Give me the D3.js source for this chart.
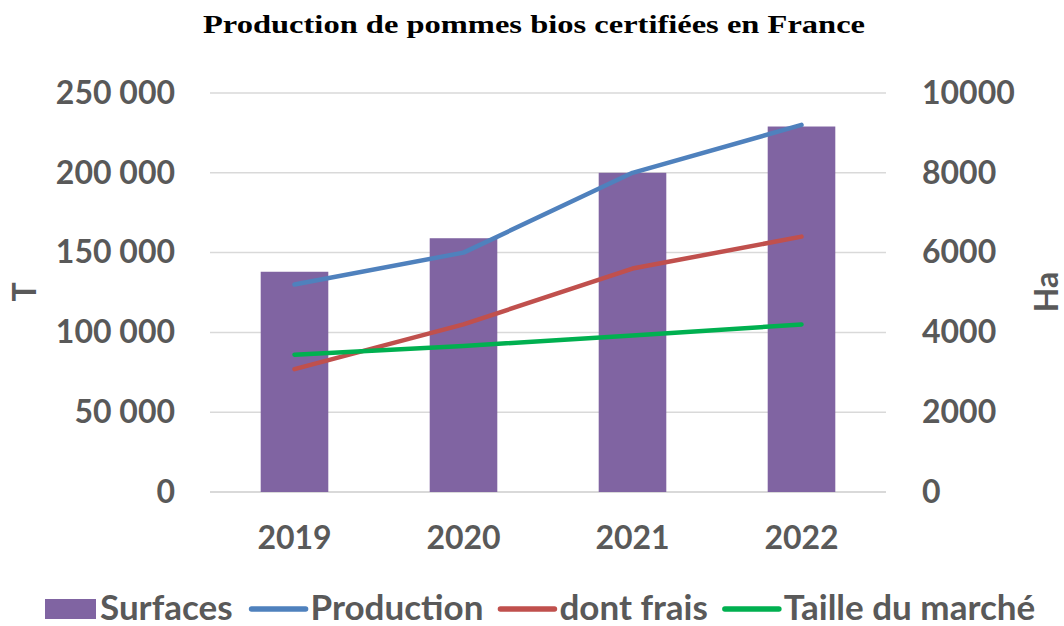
<!DOCTYPE html>
<html>
<head>
<meta charset="utf-8">
<script src="https://cdn.jsdelivr.net/npm/d3@7"></script>
<style>
  body { margin: 0; background: #fff; }
  text { font-family: Lato, "Open Sans", sans-serif; }
</style>
</head>
<body>
<div id="container"></div>
<script>
// data
const years = ['2019', '2020', '2021', '2022'];
const surfaces = [5520, 6360, 8000, 9160];          // Ha (right axis)
const production = [130000, 150000, 200000, 230000]; // T
const dontFrais = [77000, 105000, 140000, 160000];
const tailleMarche = [86000, 91500, 98000, 105000];
const leftTicks = [0, 50000, 100000, 150000, 200000, 250000];
const rightTicks = [0, 2000, 4000, 6000, 8000, 10000];

const width = 1064, height = 626;
const grey = '#595959';
const tickFont = '32px';
const legFont = '35px';

const svg = d3.select('#container').append('svg')
    .attr('width', width)
    .attr('height', height);

// scales
const x = d3.scaleBand().domain(years).range([210, 886]).paddingInner(0.6).paddingOuter(0.3);
const yL = d3.scaleLinear().domain([0, 250000]).range([492, 93]);
const yR = d3.scaleLinear().domain([0, 10000]).range([492, 93]);

const fr = d3.formatLocale({ decimal: ',', thousands: ' ', grouping: [3], currency: ['', ' €'] });

// title
svg.append('text')
    .attr('x', 534).attr('y', 33)
    .attr('text-anchor', 'middle')
    .style('font-family', '"Liberation Serif", serif')
    .style('font-weight', 'bold')
    .style('font-size', '26px')
    .attr('textLength', 662)
    .attr('lengthAdjust', 'spacingAndGlyphs')
    .attr('fill', '#000')
    .text('Production de pommes bios certifiées en France');

// gridlines
svg.append('g').selectAll('line').data(leftTicks).enter().append('line')
    .attr('x1', 210).attr('x2', 886)
    .attr('y1', d => yL(d)).attr('y2', d => yL(d))
    .attr('stroke', '#D9D9D9')
    .attr('stroke-width', d => d === 0 ? 2 : 1.5);

// left axis
const gL = svg.append('g')
    .attr('transform', 'translate(212,0)')
    .call(d3.axisLeft(yL).tickValues(leftTicks).tickSize(0).tickPadding(37).tickFormat(fr.format(',')));
gL.select('.domain').remove();
gL.selectAll('text')
    .attr('fill', grey).style('font-size', tickFont).style('font-weight', 'bold')
    .style('font-family', 'Lato, sans-serif');

// right axis
const gR = svg.append('g')
    .attr('transform', 'translate(885,0)')
    .call(d3.axisRight(yR).tickValues(rightTicks).tickSize(0).tickPadding(37).tickFormat(d3.format('d')));
gR.select('.domain').remove();
gR.selectAll('text')
    .attr('fill', grey).style('font-size', tickFont).style('font-weight', 'bold')
    .style('font-family', 'Lato, sans-serif');

// x axis
const gX = svg.append('g')
    .attr('transform', 'translate(0,492)')
    .call(d3.axisBottom(x).tickSize(0).tickPadding(34));
gX.select('.domain').remove();
gX.selectAll('text')
    .attr('fill', grey).style('font-size', tickFont).style('font-weight', 'bold')
    .style('font-family', 'Lato, sans-serif');

// axis titles
svg.append('text')
    .attr('transform', 'translate(36,292) rotate(-90)')
    .attr('text-anchor', 'middle')
    .attr('fill', grey).style('font-size', tickFont).style('font-weight', 'bold')
    .text('T');
svg.append('text')
    .attr('transform', 'translate(1058,292) rotate(-90)')
    .attr('text-anchor', 'middle')
    .attr('fill', grey).style('font-size', tickFont).style('font-weight', 'bold')
    .text('Ha');

// bars
svg.append('g').selectAll('rect').data(surfaces).enter().append('rect')
    .attr('x', (d, i) => x(years[i]))
    .attr('width', x.bandwidth())
    .attr('y', d => yR(d))
    .attr('height', d => yR(0) - yR(d))
    .attr('fill', '#8064A2');

// lines
const series = [
    { name: 'Production', values: production, color: '#4F81BD' },
    { name: 'dont frais', values: dontFrais, color: '#C0504D' },
    { name: 'Taille du marché', values: tailleMarche, color: '#00B050' }
];
const line = d3.line()
    .x((d, i) => x(years[i]) + x.bandwidth() / 2)
    .y(d => yL(d));

series.forEach(s => {
    svg.append('path')
        .datum(s.values)
        .attr('d', line)
        .attr('fill', 'none')
        .attr('stroke', s.color)
        .attr('stroke-width', 4.5)
        .attr('stroke-linecap', 'round')
        .attr('stroke-linejoin', 'round');
});

// legend
const leg = svg.append('g');
let lx = 45;
const ly = 609;
leg.append('rect').attr('x', lx).attr('y', ly - 10).attr('width', 51).attr('height', 20).attr('fill', '#8064A2');
lx += 55;
let t = leg.append('text').attr('x', lx).attr('y', ly + 11)
    .attr('fill', grey).style('font-size', legFont).style('font-weight', 'bold').text('Surfaces');
lx += t.node().getComputedTextLength() + 19;
series.forEach(s => {
    leg.append('line')
        .attr('x1', lx).attr('x2', lx + 54)
        .attr('y1', ly).attr('y2', ly)
        .attr('stroke', s.color).attr('stroke-width', 5.5).attr('stroke-linecap', 'round');
    lx += 59;
    t = leg.append('text').attr('x', lx).attr('y', ly + 11)
        .attr('fill', grey).style('font-size', legFont).style('font-weight', 'bold').text(s.name);
    lx += t.node().getComputedTextLength() + 17;
});
</script>
</body>
</html>
